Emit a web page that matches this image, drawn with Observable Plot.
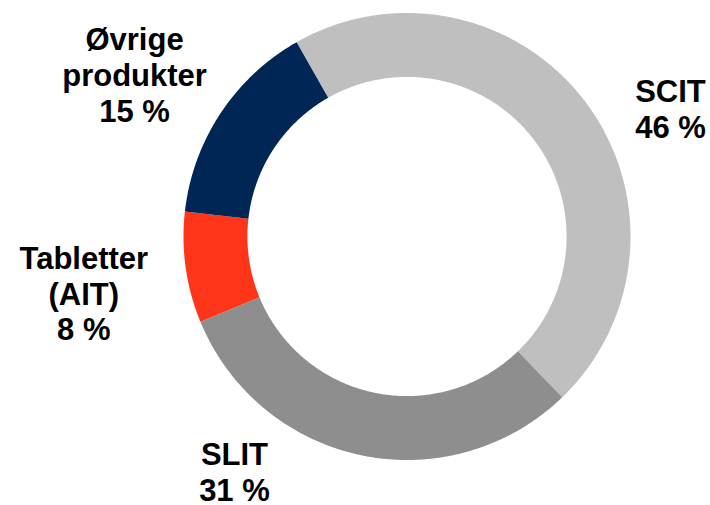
<!DOCTYPE html>
<html>
<head>
<meta charset="utf-8">
<script src="https://cdn.jsdelivr.net/npm/d3@7"></script>
<script src="https://cdn.jsdelivr.net/npm/@observablehq/plot@0.6"></script>
<style>
  html, body { margin: 0; padding: 0; background: #fff; }
  #chart svg { display: block; }
</style>
</head>
<body>
<div id="chart"></div>
<script>
// ---- data ----
const categories = ["SCIT", "SLIT", "Tabletter (AIT)", "Øvrige produkter"];
const shares = [46, 31, 8, 15];
const labelTexts = ["SCIT\n46 %", "SLIT\n31 %", "Tabletter\n(AIT)\n8 %", "Øvrige\nprodukter\n15 %"];

// ---- styling / layout (not data) ----
const colors = ["#BFBFBF", "#8E8E8E", "#FF3519", "#002656"];
const startDeg = -29.6;       // first slice starts here, clockwise from top
const innerR = 0.714;         // hole radius relative to outer radius
const labelPos = [            // label block centres, in outer-radius units
  [1.179, 0.572],
  [-0.772, -1.051],
  [-1.446, -0.253],
  [-1.219, 0.724]
];

// ---- geometry from the data ----
const total = d3.sum(shares);
const polys = [];
let acc = 0;
categories.forEach((c, i) => {
  const a0 = (startDeg + acc / total * 360) * Math.PI / 180;
  acc += shares[i];
  const a1 = (startDeg + acc / total * 360) * Math.PI / 180;
  const n = Math.max(8, Math.ceil((a1 - a0) * 180 / Math.PI * 2));
  for (let k = 0; k <= n; k++) {
    const a = a0 + (a1 - a0) * k / n;
    polys.push({cat: c, x: Math.sin(a), y: Math.cos(a)});
  }
  for (let k = n; k >= 0; k--) {
    const a = a0 + (a1 - a0) * k / n;
    polys.push({cat: c, x: innerR * Math.sin(a), y: innerR * Math.cos(a)});
  }
});
const labels = categories.map((c, i) => ({cat: c, text: labelTexts[i], x: labelPos[i][0], y: labelPos[i][1]}));

const cx = 406.5, cy = 236, R = 223.5;
const chart = Plot.plot({
  width: 710,
  height: 505,
  margin: 0,
  style: {fontFamily: "'Liberation Sans', Arial, sans-serif", background: "#fff"},
  x: {domain: [-1, 1], range: [cx - R, cx + R], axis: null},
  y: {domain: [-1, 1], range: [cy + R, cy - R], axis: null},
  color: {domain: categories, range: colors},
  marks: [
    Plot.line(polys, {x: "x", y: "y", z: "cat", fill: "cat", stroke: null, curve: "linear-closed"}),
    Plot.text(labels, {
      x: "x", y: "y", text: "text",
      fontSize: 31, fontWeight: "bold", fill: "#000",
      lineHeight: 1.16, lineAnchor: "middle", textAnchor: "middle"
    })
  ]
});
document.getElementById("chart").appendChild(chart);
</script>
</body>
</html>
